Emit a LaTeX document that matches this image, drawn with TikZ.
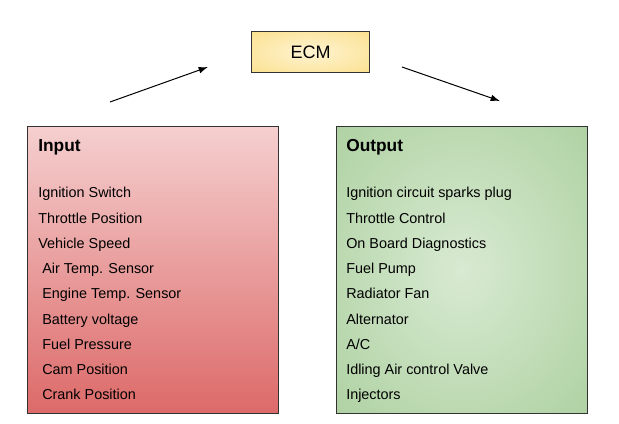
\documentclass[tikz,border=0pt]{standalone}
\usepackage{fontspec}
\setmainfont{Liberation Sans}
\usetikzlibrary{arrows.meta}

\definecolor{ecmlight}{HTML}{FFF4D2}
\definecolor{ecmdark}{HTML}{F8D466}
\definecolor{inlight}{HTML}{F5CFCF}
\definecolor{indark}{HTML}{DC6A69}
\definecolor{outlight}{HTML}{D8EAD2}
\definecolor{outdark}{HTML}{93C182}

% radial fills, edge colour reached near the corners
\pgfdeclareradialshading{ecmshade}{\pgfpoint{0bp}{0bp}}{color(0bp)=(ecmlight); color(58bp)=(ecmdark)}
\pgfdeclareradialshading{outshade}{\pgfpoint{0bp}{0bp}}{color(0bp)=(outlight); color(60bp)=(outdark)}

\tikzset{
	box/.style={draw=black!80, line width=0.75pt, inner sep=0pt, anchor=north west},
	head/.style={anchor=base west, inner sep=0pt, font=\fontsize{13}{15}\selectfont\bfseries},
	item/.style={anchor=base west, inner sep=0pt, font=\fontsize{10.8}{13}\selectfont},
	arr/.style={-{Latex[length=7pt, width=5pt]}, black, line width=0.75pt}
}

\begin{document}
\begin{tikzpicture}[x=0.75pt, y=-0.75pt]
		\useasboundingbox (0, 0) rectangle (619, 424);

		% ECM unit
		\node (ecm) [box, shading=ecmshade, minimum width=88.5pt, minimum height=30.75pt, font=\fontsize{13.5}{16}\selectfont] at (251, 31) {ECM};

		% arrows in and out
		\coordinate (inS) at (110, 102);
		\coordinate (inE) at (208, 67);
		\coordinate (outS) at (402, 67);
		\coordinate (outE) at (500, 101);
		\draw[arr]	(inS) -- (inE);
		\draw[arr]	(outS) -- (outE);

		% input side
		\node (input) [box, top color=inlight, bottom color=indark, minimum width=188.25pt, minimum height=215.25pt] at (27, 126) {};
		\node (inHead) [head] at (38, 152) {Input};
		\node (in1) [item] at (38, 198) {Ignition Switch};
		\node (in2) [item] at (38, 223.3) {Throttle Position};
		\node (in3) [item] at (38, 248.5) {Vehicle Speed};
		\node (in4) [item] at (42, 273.8) {Air Temp. Sensor};
		\node (in5) [item] at (42, 299) {Engine Temp. Sensor};
		\node (in6) [item] at (42, 324.3) {Battery voltage};
		\node (in7) [item] at (42, 349.5) {Fuel Pressure};
		\node (in8) [item] at (42, 374.8) {Cam Position};
		\node (in9) [item] at (42, 400) {Crank Position};

		% output side
		\node (output) [box, shading=outshade, minimum width=188.25pt, minimum height=215.25pt] at (336, 126) {};
		\node (outHead) [head] at (346, 152) {Output};
		\node (out1) [item] at (346, 198) {Ignition circuit sparks plug};
		\node (out2) [item] at (346, 223.3) {Throttle Control};
		\node (out3) [item] at (346, 248.5) {On Board Diagnostics};
		\node (out4) [item] at (346, 273.8) {Fuel Pump};
		\node (out5) [item] at (346, 299) {Radiator Fan};
		\node (out6) [item] at (346, 324.3) {Alternator};
		\node (out7) [item] at (346, 349.5) {A/C};
		\node (out8) [item] at (346, 374.8) {Idling Air control Valve};
		\node (out9) [item] at (346, 400) {Injectors};
	\end{tikzpicture}
\end{document}
